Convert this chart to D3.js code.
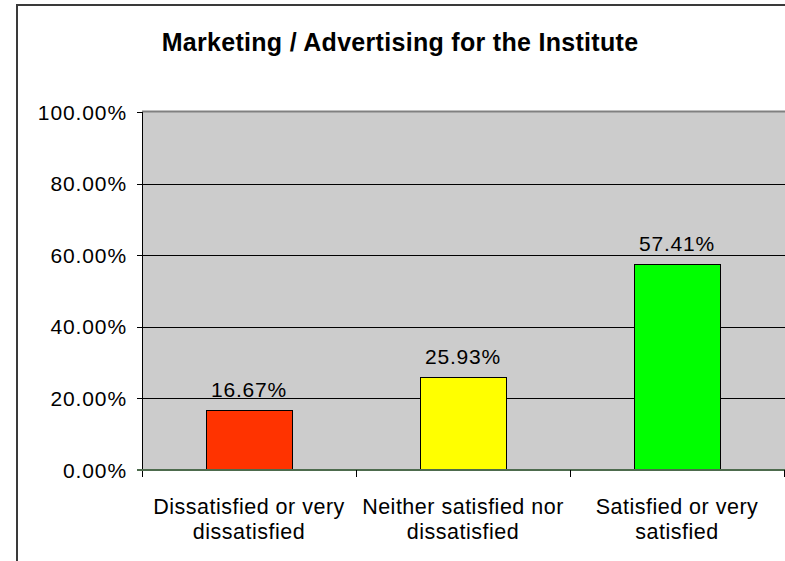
<!DOCTYPE html>
<html lang="en">
<head>
  <meta charset="UTF-8" />
  <title>Marketing / Advertising for the Institute</title>
  <script src="https://d3js.org/d3.v7.min.js"></script>
  <style>
    html, body { margin: 0; padding: 0; background: #fff; }
    svg { display: block; font-family: Arial, "Liberation Sans", sans-serif; }
    .tick-label { font-size: 21px; letter-spacing: 0.9px; fill: #000; }
    .cat-label { font-size: 21.5px; letter-spacing: 0.5px; fill: #000; }
    .value-label { font-size: 21px; letter-spacing: 0.8px; fill: #000; }
    .title { font-size: 25px; font-weight: bold; letter-spacing: 0.3px; fill: #000; }
  </style>
</head>
<body>
  <svg id="chart" width="785" height="561"></svg>

  <script>
    // chart data
    const categories = [
      ['Dissatisfied or very', 'dissatisfied'],
      ['Neither satisfied nor', 'dissatisfied'],
      ['Satisfied or very', 'satisfied']
    ];
    const values = [0.1667, 0.2593, 0.5741];
    const colors = ['#ff3300', '#ffff00', '#00ff00'];
    const yTicks = [0, 0.2, 0.4, 0.6, 0.8, 1.0];

    const svg = d3.select('#chart');
    const plot = { left: 142, right: 784, top: 112, bottom: 470 };

    const keys = categories.map((c, i) => i);
    const x = d3.scaleBand().domain(keys).range([plot.left, plot.right]).padding(0);
    const y = d3.scaleLinear().domain([0, 1]).range([plot.bottom, plot.top]);

    // outer chart frame (runs off the right and bottom edges)
    svg.append('rect')
      .attr('x', 17).attr('y', 5).attr('width', 800).attr('height', 600)
      .attr('fill', '#fff').attr('stroke', '#3a3a3a').attr('stroke-width', 2);

    // title
    svg.append('text').attr('class', 'title')
      .attr('x', 400).attr('y', 51).attr('text-anchor', 'middle')
      .text('Marketing / Advertising for the Institute');

    // plot background
    svg.append('rect')
      .attr('x', plot.left).attr('y', plot.top)
      .attr('width', 800 - plot.left).attr('height', plot.bottom - plot.top)
      .attr('fill', '#cccccc');

    // top border of plot area
    svg.append('line')
      .attr('x1', plot.left).attr('x2', 800)
      .attr('y1', plot.top - 0.5).attr('y2', plot.top - 0.5)
      .attr('stroke', '#808080').attr('stroke-width', 2);

    // gridlines
    svg.append('g').selectAll('line')
      .data(yTicks.filter(t => t > 0 && t < 1))
      .join('line')
      .attr('x1', plot.left).attr('x2', 800)
      .attr('y1', d => Math.round(y(d)) + 0.5).attr('y2', d => Math.round(y(d)) + 0.5)
      .attr('stroke', '#000').attr('stroke-width', 1);

    // bars
    const barW = x.bandwidth() * 0.4;
    svg.append('g').selectAll('rect')
      .data(values)
      .join('rect')
      .attr('x', (d, i) => Math.round(x(i) + (x.bandwidth() - barW) / 2) + 0.5)
      .attr('y', d => Math.round(y(d)) + 0.5)
      .attr('width', Math.round(barW))
      .attr('height', d => Math.round(y(0)) - Math.round(y(d)))
      .attr('fill', (d, i) => colors[i])
      .attr('stroke', '#000').attr('stroke-width', 1);

    // value labels
    svg.append('g').selectAll('text')
      .data(values)
      .join('text')
      .attr('class', 'value-label')
      .attr('x', (d, i) => x(i) + x.bandwidth() / 2)
      .attr('y', d => y(d) - 13)
      .attr('text-anchor', 'middle')
      .text(d => d3.format('.2%')(d));

    // y axis line and ticks
    svg.append('line')
      .attr('x1', plot.left + 0.5).attr('x2', plot.left + 0.5)
      .attr('y1', plot.top).attr('y2', plot.bottom + 7)
      .attr('stroke', '#000');
    svg.append('g').selectAll('line')
      .data(yTicks)
      .join('line')
      .attr('x1', plot.left - 5).attr('x2', plot.left)
      .attr('y1', d => Math.round(y(d)) + 0.5).attr('y2', d => Math.round(y(d)) + 0.5)
      .attr('stroke', '#000');
    svg.append('g').selectAll('text')
      .data(yTicks)
      .join('text')
      .attr('class', 'tick-label')
      .attr('x', 127)
      .attr('y', d => y(d) + 7.5)
      .attr('text-anchor', 'end')
      .text(d => d3.format('.2%')(d));

    // zero axis line
    svg.append('line')
      .attr('x1', plot.left - 5).attr('x2', 800)
      .attr('y1', plot.bottom).attr('y2', plot.bottom)
      .attr('stroke', '#4d6b4d').attr('stroke-width', 2);

    // category ticks
    svg.append('g').selectAll('line')
      .data(keys.slice(1).concat([keys.length]))
      .join('line')
      .attr('x1', d => x(0) + d * x.step() + 0.5).attr('x2', d => x(0) + d * x.step() + 0.5)
      .attr('y1', plot.bottom).attr('y2', plot.bottom + 7)
      .attr('stroke', '#000');

    // category labels
    const cat = svg.append('g').selectAll('text')
      .data(categories)
      .join('text')
      .attr('class', 'cat-label')
      .attr('text-anchor', 'middle');
    cat.selectAll('tspan')
      .data((d, i) => d.map(line => ({ line, i })))
      .join('tspan')
      .attr('x', d => x(d.i) + x.bandwidth() / 2)
      .attr('y', (d, j) => 514 + j * 25)
      .text(d => d.line);
  </script>
</body>
</html>
